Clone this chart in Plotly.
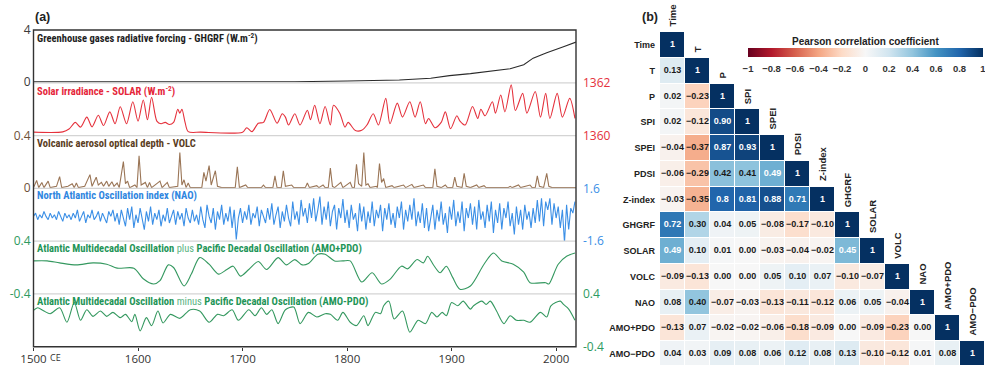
import plotly.graph_objects as go

# ---------------- panel (a) data ----------------
ghg_years = [1500, 1600, 1700, 1750, 1800, 1850, 1880, 1898, 1918, 1937, 1956, 1969, 1978, 1988, 1991, 2007, 2019]
ghg_vals = [0.02, 0.02, 0.03, 0.03, 0.09, 0.17, 0.30, 0.50, 0.65, 0.83, 1.03, 1.33, 1.84, 2.16, 2.26, 2.72, 3.07]

solar_years = [1500, 1528, 1534, 1540, 1545, 1551, 1556, 1562, 1567, 1573,
               1578, 1583, 1589, 1595, 1600, 1605, 1609, 1613, 1618, 1622,
               1626, 1630, 1634, 1638, 1640, 1642, 1645, 1648, 1660, 1700,
               1704, 1709, 1715, 1720, 1726, 1733, 1738, 1741, 1744, 1750,
               1755, 1762, 1765, 1769, 1774, 1779, 1784, 1787, 1793, 1798,
               1801, 1808, 1814, 1819, 1825, 1830, 1837, 1841, 1848, 1853,
               1860, 1865, 1870, 1875, 1878, 1884, 1890, 1894, 1899, 1905,
               1908, 1913, 1920, 1925, 1928, 1932, 1939, 1942, 1947, 1951,
               1957, 1961, 1968, 1972, 1980, 1985, 1990, 1994, 2001, 2006,
               2013, 2018]
solar_vals = [1360.13, 1360.14, 1360.25, 1360.50, 1360.32, 1360.70, 1360.33, 1360.77, 1360.38, 1360.90,
              1360.45, 1361.09, 1360.45, 1361.28, 1360.55, 1361.35, 1360.60, 1361.45, 1360.55, 1360.45,
              1360.50, 1360.42, 1360.50, 1361.00, 1360.85, 1361.00, 1360.50, 1360.15, 1360.13, 1360.13,
              1360.30, 1360.15, 1360.47, 1360.50, 1360.99, 1360.47, 1360.83, 1360.70, 1360.40, 1360.83,
              1360.40, 1360.96, 1360.60, 1361.15, 1360.45, 1361.10, 1360.40, 1361.15, 1360.85, 1360.32,
              1360.50, 1360.19, 1360.20, 1360.40, 1360.83, 1360.40, 1361.41, 1360.45, 1361.23, 1360.70,
              1361.28, 1360.70, 1361.28, 1360.45, 1360.65, 1360.30, 1360.50, 1360.90, 1360.26, 1360.75,
              1360.55, 1360.40, 1361.10, 1360.65, 1361.00, 1360.75, 1361.28, 1360.85, 1361.54, 1360.90,
              1361.92, 1360.95, 1361.60, 1360.85, 1361.67, 1360.70, 1361.60, 1360.65, 1361.60, 1360.70,
              1361.41, 1360.65]

volc_years = [1500, 1503, 1505, 1508, 1510, 1514, 1516, 1522, 1525, 1527,
              1533, 1537, 1539, 1541, 1543, 1549, 1554, 1556, 1560, 1562,
              1565, 1567, 1570, 1572, 1575, 1577, 1580, 1582, 1586, 1588,
              1590, 1592, 1597, 1599, 1601, 1603, 1607, 1609, 1611, 1613,
              1621, 1623, 1628, 1630, 1638, 1640, 1642, 1644, 1646, 1648,
              1650, 1661, 1663, 1665, 1668, 1670, 1674, 1676, 1680, 1693,
              1695, 1697, 1703, 1705, 1718, 1720, 1722, 1729, 1731, 1733,
              1737, 1739, 1741, 1747, 1749, 1760, 1762, 1764, 1771, 1773,
              1777, 1779, 1782, 1784, 1786, 1788, 1794, 1796, 1803, 1805,
              1807, 1809, 1811, 1814, 1816, 1818, 1820, 1822, 1828, 1829,
              1831, 1833, 1835, 1837, 1843, 1845, 1854, 1856, 1862, 1864,
              1873, 1875, 1882, 1884, 1886, 1890, 1894, 1896, 1901, 1903,
              1905, 1910, 1912, 1914, 1918, 1924, 1926, 1931, 1933, 1954,
              1956, 1958, 1964, 1966, 1975, 1977, 1980, 1982, 1984, 1988,
              1991, 1993, 1996, 2019]
volc_aod = [0, 0.055, 0, 0.04, 0, 0.05, 0, 0.01, 0.085, 0,
            0.01, 0.03, 0, 0.035, 0, 0.01, 0.1, 0.01, 0.08, 0.02,
            0.04, 0.01, 0.05, 0.01, 0.045, 0.01, 0.035, 0, 0.2, 0.03,
            0.05, 0, 0.02, 0, 0.245, 0.02, 0.04, 0, 0.04, 0,
            0.05, 0, 0.04, 0, 0.01, 0.27, 0.02, 0.06, 0, 0.035,
            0, 0, 0.117, 0.05, 0.17, 0.02, 0.13, 0.01, 0, 0,
            0.16, 0, 0.02, 0, 0, 0.02, 0, 0, 0.09, 0,
            0, 0.13, 0.01, 0.02, 0, 0, 0.035, 0, 0.015, 0,
            0.02, 0, 0, 0.15, 0.01, 0, 0.04, 0, 0.04, 0,
            0, 0.18, 0.03, 0.01, 0.27, 0.02, 0.03, 0, 0.01, 0,
            0.185, 0.04, 0.07, 0, 0.015, 0, 0.02, 0, 0.025, 0,
            0.02, 0, 0, 0.145, 0.01, 0, 0.02, 0, 0, 0.08,
            0.01, 0, 0.11, 0.01, 0, 0.02, 0, 0.015, 0, 0,
            0.01, 0, 0.02, 0, 0.02, 0, 0, 0.09, 0.01, 0,
            0.11, 0.01, 0, 0]

nao_years = list(range(1500, 2019, 2))
nao_vals = [-0.1, 0.1, -0.3, 0.0, -0.2, 0.2, -0.1, -0.3, 0.1, -0.2,
            0.0, -0.3, 0.2, -0.1, -0.4, 0.1, -0.2, 0.0, -0.3, 0.1,
            -0.2, 0.3, -0.4, -0.1, 0.2, -0.5, 0.0, -0.2, 0.3, -0.3,
            -0.1, 0.2, -0.4, 0.1, -0.2, -0.5, 0.2, -0.1, 0.3, -0.4,
            0.1, -0.6, 0.3, -0.2, -0.7, 0.4, -0.3, 0.5, -0.8, 0.0,
            -0.5, 0.4, -0.3, -0.9, 0.2, -0.4, 0.5, -0.6, 0.1, -0.3,
            0.3, -0.7, 0.0, -0.4, 0.4, -0.5, -0.1, 0.3, -0.6, 0.2,
            -0.3, 0.1, -0.7, 0.4, -0.2, -0.5, 0.3, -0.4, 0.0, -0.6,
            0.5, -0.3, -0.8, 0.6, -0.1, -0.5, 0.4, -0.9, 0.2, -0.3,
            0.6, -0.6, 0.1, -0.4, 0.5, -0.8, 0.3, -1.5, -0.2, 0.4,
            -0.5, 0.2, -0.3, 0.6, -0.6, 0.1, -0.2, 0.5, -0.7, 0.3,
            -0.1, -0.5, 0.4, -0.3, 0.7, -0.6, 0.0, 0.5, -0.8, 0.2,
            -0.4, 0.6, -0.2, -0.7, 0.8, -0.3, 0.2, -0.6, 0.9, -0.1,
            0.4, -0.5, 0.7, -0.2, 1.0, -0.4, 0.3, 1.1, -0.6, 0.5,
            -0.3, 0.8, -0.7, 0.2, 0.6, -0.9, 0.4, -0.2, 0.95, -0.5,
            0.3, -0.8, 0.6, -0.3, 0.1, -1.0, 0.7, -0.4, 0.5, -0.9,
            0.2, -0.5, 0.8, -0.7, 0.3, -0.2, 0.6, -1.0, 0.4, -0.3,
            0.7, -0.6, 0.1, -0.8, 0.5, -0.2, 0.8, -0.9, 0.3, -0.4,
            0.6, -0.3, 1.0, -0.7, 0.2, -0.5, 0.7, -0.8, 0.4, -1.0,
            -0.2, 0.6, -0.9, 0.3, -0.4, 0.8, -0.6, 0.1, -1.1, 0.5,
            -0.3, 0.9, -0.7, 0.2, -0.5, 0.8, -1.0, 0.4, -0.2, 0.7,
            -0.6, 0.5, -0.9, 0.9, -0.3, 0.2, -0.8, 0.6, -0.4, 0.8,
            -1.1, 0.3, -0.5, 0.7, -0.9, 0.4, -0.2, 0.8, -0.7, 0.1,
            -1.2, 0.5, -0.6, 0.3, -0.9, 0.6, -0.3, 0.2, -0.8, 0.4,
            -0.5, 0.9, -0.4, 1.0, -0.7, 0.8, 0.3, 1.0, -0.6, 0.7,
            -0.2, 0.5, -0.8, 0.3, -1.7, 0.6, -0.9, 0.4, 0.1, 0.8]

amo_plus_years = [1500, 1513, 1525, 1541, 1557, 1570, 1580, 1596, 1605, 1615,
                  1621, 1629, 1634, 1644, 1651, 1659, 1668, 1677, 1685, 1691,
                  1698, 1706, 1715, 1723, 1734, 1742, 1750, 1757, 1763, 1772,
                  1779, 1788, 1796, 1803, 1814, 1824, 1833, 1841, 1852, 1858,
                  1867, 1873, 1877, 1883, 1889, 1895, 1901, 1908, 1918, 1931,
                  1940, 1948, 1959, 1969, 1975, 1990, 1993, 2002, 2010, 2018]
amo_plus_vals = [0.10, 0.10, 0.07, 0.04, 0.07, 0.05, -0.01, -0.01, -0.17, -0.25,
                 -0.20, 0.04, 0.00, -0.28, -0.10, 0.15, 0.05, -0.10, -0.03, 0.02,
                 -0.13, -0.03, 0.09, -0.03, 0.15, 0.04, 0.12, 0.04, 0.06, 0.20,
                 0.20, 0.10, 0.10, 0.10, -0.22, -0.08, -0.25, -0.18, 0.02, -0.02,
                 0.12, 0.07, 0.17, 0.03, -0.08, 0.02, -0.15, -0.33, -0.28, 0.05,
                 0.22, 0.10, 0.05, -0.07, -0.23, -0.23, -0.25, 0.05, 0.17, 0.22]

amo_minus_years = [1500, 1504, 1510, 1516, 1525, 1532, 1539, 1545, 1551, 1557,
                   1564, 1570, 1576, 1583, 1588, 1594, 1597, 1602, 1608, 1613,
                   1619, 1624, 1631, 1640, 1650, 1659, 1668, 1676, 1682, 1690,
                   1696, 1706, 1712, 1718, 1723, 1728, 1734, 1741, 1749, 1755,
                   1763, 1771, 1779, 1784, 1791, 1796, 1803, 1809, 1816, 1820,
                   1827, 1832, 1835, 1840, 1845, 1853, 1860, 1868, 1875, 1881,
                   1886, 1891, 1895, 1900, 1906, 1911, 1918, 1921, 1929, 1933,
                   1937, 1943, 1950, 1956, 1962, 1969, 1975, 1985, 1991, 1995,
                   2004, 2007, 2012, 2018]
amo_minus_vals = [0.15, 0.19, 0.14, 0.10, 0.19, -0.03, 0.27, 0.00, 0.16, 0.06,
                  0.14, 0.06, 0.12, 0.04, 0.09, -0.02, 0.09, -0.16, 0.04, -0.08,
                  0.14, -0.04, 0.09, 0.03, 0.16, 0.14, -0.03, 0.09, 0.07, 0.16,
                  0.00, 0.16, 0.07, 0.19, 0.09, 0.16, -0.05, 0.16, 0.20, -0.05,
                  0.12, 0.05, 0.10, 0.09, 0.00, 0.12, -0.03, -0.08, 0.07, -0.08,
                  0.12, 0.10, 0.22, 0.29, 0.02, 0.14, -0.18, 0.00, -0.05, 0.12,
                  0.05, 0.12, 0.07, 0.27, 0.22, 0.29, 0.17, 0.22, 0.29, 0.24,
                  0.29, 0.14, -0.05, 0.07, 0.00, 0.00, -0.03, 0.12, 0.05, 0.22,
                  0.29, 0.24, 0.17, 0.00]

x_ticks = [1500, 1600, 1700, 1800, 1900, 2000]
x_ticktext = ["1500", "1600", "1700", "1800", "1900", "2000"]

# ---------------- panel (b) data ----------------
var_names = ["Time", "T", "P", "SPI", "SPEI", "PDSI", "Z-index", "GHGRF",
             "SOLAR", "VOLC", "NAO", "AMO+PDO", "AMO\u2212PDO"]
corr_rows = [
    ["1"],
    ["0.13", "1"],
    ["0.02", "-0.23", "1"],
    ["0.02", "-0.12", "0.90", "1"],
    ["-0.04", "-0.37", "0.87", "0.93", "1"],
    ["-0.06", "-0.29", "0.42", "0.41", "0.49", "1"],
    ["-0.03", "-0.35", "0.8", "0.81", "0.88", "0.71", "1"],
    ["0.72", "0.30", "0.04", "0.05", "-0.08", "-0.17", "-0.10", "1"],
    ["0.49", "0.10", "0.01", "0.00", "-0.03", "-0.04", "-0.02", "0.45", "1"],
    ["-0.09", "-0.13", "0.00", "0.00", "0.05", "0.10", "0.07", "-0.10", "-0.07", "1"],
    ["0.08", "0.40", "-0.07", "-0.03", "-0.13", "-0.11", "-0.12", "0.06", "0.05", "-0.04", "1"],
    ["-0.13", "0.07", "-0.02", "-0.02", "-0.06", "-0.18", "-0.09", "0.00", "-0.09", "-0.23", "0.00", "1"],
    ["0.04", "0.03", "0.09", "0.08", "0.06", "0.12", "0.08", "0.13", "-0.10", "-0.12", "0.01", "0.08", "1"],
]
cb_ticks = [-1, -0.8, -0.6, -0.4, -0.2, 0, 0.2, 0.4, 0.6, 0.8, 1]

# ---------------- geometry helpers ----------------
W, H = 985, 365
def fx(p): return p / W
def fy(p): return 1 - p / H

band_px = [30, 82.8, 135.6, 188.4, 241.1, 293.9, 346.7]
ax_left, ax_right = 33.5, 576

fig = go.Figure()

series = [
    (ghg_years, ghg_vals, "#2a2a2a", "linear"),
    (solar_years, solar_vals, "#e5313c", "spline"),
    (volc_years, volc_aod, "#9a7556", "linear"),
    (nao_years, nao_vals, "#3b8fe6", "linear"),
    (amo_plus_years, amo_plus_vals, "#34985f", "spline"),
    (amo_minus_years, amo_minus_vals, "#34985f", "spline"),
]
for i, (xs, ys, col, shp) in enumerate(series):
    yname = "y" if i == 0 else f"y{i+1}"
    fig.add_trace(go.Scatter(x=xs, y=ys, xaxis="x", yaxis=yname, mode="lines",
                             line=dict(color=col, width=1.1, shape=shp, smoothing=0.8),
                             hoverinfo="skip", showlegend=False))

axis_specs = [
    ([-0.05, 4], "left", [0, 4], ["0", "4"], "#3a3a3a"),
    ([1360, 1362], "right", [1360, 1362], ["1360", "1362"], "#e5313c"),
    ([-0.006, 0.4], "left", [0, 0.4], ["0", "0.4"], "#6e5138"),
    ([-1.6, 1.6], "right", [-1.6, 1.6], ["-1.6", "1.6"], "#3b8fe6"),
    ([-0.4, 0.4], "left", [-0.4, 0.4], ["-0.4", "0.4"], "#2e9a60"),
    ([-0.4, 0.4], "right", [-0.4, 0.4], ["-0.4", "0.4"], "#2e9a60"),
]
layout_axes = {}
for i, (rng, side, tv, tt, col) in enumerate(axis_specs):
    key = "yaxis" if i == 0 else f"yaxis{i+1}"
    layout_axes[key] = dict(
        domain=[fy(band_px[i + 1]), fy(band_px[i])], range=rng, side=side, anchor="x",
        tickvals=tv, ticktext=tt, ticks="", showgrid=False, zeroline=False, showline=False,
        tickfont=dict(family="Open Sans", size=12, color=col),
        ticklabelstandoff=(2 if side == "left" else 6),
        automargin=False, fixedrange=True)

layout_axes["xaxis"] = dict(
    domain=[fx(ax_left), fx(ax_right)], range=[1500, 2019], anchor="y6",
    tickvals=x_ticks, ticktext=x_ticktext, ticks="outside", ticklen=3, tickcolor="#333",
    tickwidth=1, showgrid=False, zeroline=False, showline=False, ticklabelstandoff=-2,
    tickfont=dict(family="Open Sans", size=11.5, color="#333"), automargin=False)

# heatmap
n = len(var_names)
z = [[None] * n for _ in range(n)]
hx, hy, htxt, hcol = [], [], [], []
for r, row in enumerate(corr_rows):
    for c, s in enumerate(row):
        v = float(s)
        z[r][c] = v
        hx.append(c)
        hy.append(r)
        htxt.append("<b>" + s.replace("-", "\u2212") + "</b>")
        hcol.append("white" if v >= 0.44 else "#1a1a1a")

rdbu = [[0.0, "#67001f"], [0.1, "#b2182b"], [0.2, "#d6604d"], [0.3, "#f4a582"],
        [0.4, "#fddbc7"], [0.5, "#f7f7f7"], [0.6, "#d1e5f0"], [0.7, "#92c5de"],
        [0.8, "#4393c3"], [0.9, "#2166ac"], [1.0, "#053061"]]

cb_left, cb_right = 748, 983
fig.add_trace(go.Heatmap(
    z=z, x=list(range(n)), y=list(range(n)), xaxis="x2", yaxis="y7",
    colorscale=rdbu, zmin=-1, zmax=1, xgap=1, ygap=1, hoverinfo="skip",
    colorbar=dict(orientation="h", x=fx(cb_left), xanchor="left", y=fy(48), yanchor="top",
                  len=(cb_right - cb_left) / W, lenmode="fraction", thickness=9,
                  thicknessmode="pixels", xpad=0, ypad=0, outlinewidth=0,
                  tickvals=cb_ticks,
                  ticktext=["<b>" + (("\u2212" if t < 0 else "") + f"{abs(t):g}") + "</b>" for t in cb_ticks],
                  ticks="outside", ticklen=4, tickcolor="rgba(255,255,255,0)",
                  ticklabeloverflow="allow",
                  tickfont=dict(family="Liberation Sans", size=9.5, color="#333"))))
fig.add_trace(go.Scatter(x=hx, y=hy, text=htxt, mode="text", xaxis="x2", yaxis="y7",
                         textfont=dict(family="Liberation Sans", size=9, color=hcol),
                         hoverinfo="skip", showlegend=False))

layout_axes["xaxis2"] = dict(domain=[fx(660), 1.0], range=[-0.5, n - 0.5], anchor="y7",
                             visible=False, fixedrange=True)
layout_axes["yaxis7"] = dict(domain=[0, fy(32)], range=[12.43, -0.5], anchor="x2",
                             tickvals=list(range(n)), ticktext=[f"<b>{v}</b>" for v in var_names],
                             ticks="", showgrid=False, zeroline=False, showline=False,
                             tickfont=dict(family="Liberation Sans", size=9, color="#222"),
                             ticklabelstandoff=4, automargin=False)

shapes = []
for k in range(1, 6):
    shapes.append(dict(type="line", xref="x domain", x0=0, x1=1, yref="paper",
                       y0=fy(band_px[k]), y1=fy(band_px[k]), line=dict(color="#d4d4d4", width=1.2)))
shapes.append(dict(type="rect", xref="x domain", x0=0, x1=1, yref="paper",
                   y0=fy(band_px[6]), y1=fy(band_px[0]), line=dict(color="#333", width=1.4)))

title_font = "Liberation Sans Narrow, Roboto Condensed, Liberation Sans, sans-serif"
titles = [
    ("<b>Greenhouse gases radiative forcing - GHGRF (W.m<sup>-2</sup>)</b>", "#1e1e1e"),
    ("<b>Solar irradiance - SOLAR (W.m<sup>-2</sup>)</b>", "#e5263a"),
    ("<b>Volcanic aerosol optical depth - VOLC</b>", "#5a3d22"),
    ("<b>North Atlantic Oscillation index (NAO)</b>", "#2f86e0"),
    ("<b>Atlantic Multidecadal Oscillation</b> <span style='color:#5db585'>plus</span> <b>Pacific Decadal Oscillation (AMO+PDO)</b>", "#1f9558"),
    ("<b>Atlantic Multidecadal Oscillation</b> <span style='color:#5db585'>minus</span> <b>Pacific Decadal Oscillation (AMO-PDO)</b>", "#1f9558"),
]
annotations = []
for i, (txt, col) in enumerate(titles):
    yd = "y domain" if i == 0 else f"y{i+1} domain"
    annotations.append(dict(text=txt, xref="x domain", x=0, xanchor="left", xshift=1,
                            yref=yd, y=1, yanchor="top", yshift=1, showarrow=False,
                            font=dict(family=title_font, size=10.5, color=col)))
annotations.append(dict(text="CE", xref="x", x=1500, xanchor="left", xshift=14,
                        yref="paper", y=fy(357), yanchor="middle", showarrow=False,
                        font=dict(family="Open Sans", size=9, color="#333")))
annotations.append(dict(text="<b>(a)</b>", xref="paper", x=fx(33), xanchor="left",
                        yref="paper", y=fy(17), yanchor="middle", showarrow=False,
                        font=dict(family="Liberation Sans", size=12.5, color="#222")))
annotations.append(dict(text="<b>(b)</b>", xref="paper", x=fx(640), xanchor="left",
                        yref="paper", y=fy(17), yanchor="middle", showarrow=False,
                        font=dict(family="Liberation Sans", size=12.5, color="#222")))
annotations.append(dict(text="<b>Pearson correlation coefficient</b>", xref="paper",
                        x=fx((cb_left + cb_right) / 2), xanchor="center",
                        yref="paper", y=fy(42), yanchor="middle", showarrow=False,
                        font=dict(family="Liberation Sans", size=10, color="#222")))
for i, name in enumerate(var_names):
    annotations.append(dict(text=f"<b>{name}</b>", xref="x2", x=i, xanchor="center",
                            yref="y7", y=i - 0.5, yanchor="bottom", yshift=3,
                            textangle=-90, showarrow=False,
                            font=dict(family="Liberation Sans", size=9.5, color="#222")))

fig.update_layout(
    width=W, height=H, template="none",
    margin=dict(l=0, r=0, t=0, b=0, pad=0, autoexpand=False),
    paper_bgcolor="white", plot_bgcolor="rgba(0,0,0,0)",
    showlegend=False, shapes=shapes, annotations=annotations,
    **layout_axes)

fig.write_html("out.html")
